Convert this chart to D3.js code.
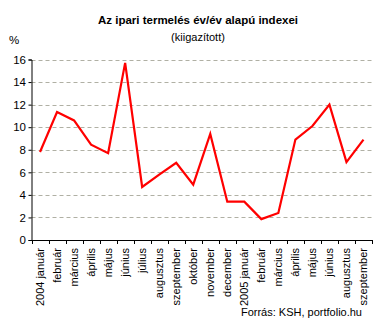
<!DOCTYPE html>
<html><head><meta charset="utf-8">
<script src="https://cdn.jsdelivr.net/npm/d3@7/dist/d3.min.js"></script>
<style>body{margin:0;background:#fff}svg{display:block}text{font-family:Arial,"Liberation Sans",sans-serif;}</style>
</head><body>
<script>
const categories = ["2004 január","február","március","április","május","június","július","augusztus","szeptember","október","november","december","2005 január","február","március","április","május","június","augusztus","szeptember"];
const values = [7.8,11.35,10.6,8.45,7.7,15.7,4.7,5.8,6.85,4.9,9.4,3.4,3.4,1.85,2.4,8.9,10.1,12.0,6.9,8.9];
const yTicks = [0,2,4,6,8,10,12,14,16];
const title = "Az ipari termelés év/év alapú indexei";
const subtitle = "(kiigazított)";
const unit = "%";
const source = "Forrás: KSH, portfolio.hu";

(function(){
const W = 377, H = 334;
const svg = d3.select("body").append("svg").attr("width", W).attr("height", H);
const mLeft = 31.5, mRight = 372, mTop = 59.5, mBottom = 240;
const x = d3.scaleBand().domain(d3.range(categories.length)).range([mLeft, mRight]);
const y = d3.scaleLinear().domain([0,16]).range([mBottom, mTop]);

svg.append("text").attr("x",198).attr("y",24).attr("text-anchor","middle")
  .attr("font-size","11.5px").attr("font-weight","bold").text(title);
svg.append("text").attr("x",198).attr("y",41).attr("text-anchor","middle")
  .attr("font-size","11px").text(subtitle);
svg.append("text").attr("x",9).attr("y",44).attr("font-size","11.5px").text(unit);

// gridlines
svg.append("g").selectAll("line").data(yTicks.filter(d=>d>0)).join("line")
  .attr("x1",mLeft).attr("x2",mRight).attr("y1",d=>Math.round(y(d))+0.5).attr("y2",d=>Math.round(y(d))+0.5)
  .attr("stroke","#b0b0a4").attr("stroke-dasharray","4,3");

// y axis
const ya = svg.append("g").attr("transform",`translate(${mLeft},0)`)
  .call(d3.axisLeft(y).tickValues(yTicks).tickSize(3).tickPadding(2.5));
ya.select(".domain").attr("stroke","#000");
ya.selectAll("text").attr("font-size","11.5px").attr("font-family","Arial, 'Liberation Sans', sans-serif").attr("fill","#000");

// x axis
const xa = svg.append("g").attr("transform",`translate(0,${mBottom})`);
xa.append("line").attr("x1",mLeft).attr("x2",mRight+1).attr("y1",0.5).attr("y2",0.5).attr("stroke","#000");
xa.selectAll("line.t").data(d3.range(categories.length+1)).join("line").attr("class","t")
  .attr("x1",i=>Math.round(mLeft + i*x.step())+0.5).attr("x2",i=>Math.round(mLeft + i*x.step())+0.5)
  .attr("y1",0).attr("y2",4).attr("stroke","#000");
xa.selectAll("text").data(categories).join("text")
  .attr("transform",(d,i)=>`translate(${x(i)+x.bandwidth()/2+4},8) rotate(-90)`)
  .attr("text-anchor","end").attr("font-size","11px").text(d=>d);

// line
const line = d3.line().x((d,i)=>x(i)+x.bandwidth()/2).y(d=>y(d));
svg.append("path").datum(values).attr("d",line).attr("fill","none")
  .attr("stroke","#ff0000").attr("stroke-width",2.2).attr("stroke-linejoin","miter");

svg.append("text").attr("x",362).attr("y",316).attr("text-anchor","end")
  .attr("font-size","11px").text(source);
})();
</script>
</body></html>
